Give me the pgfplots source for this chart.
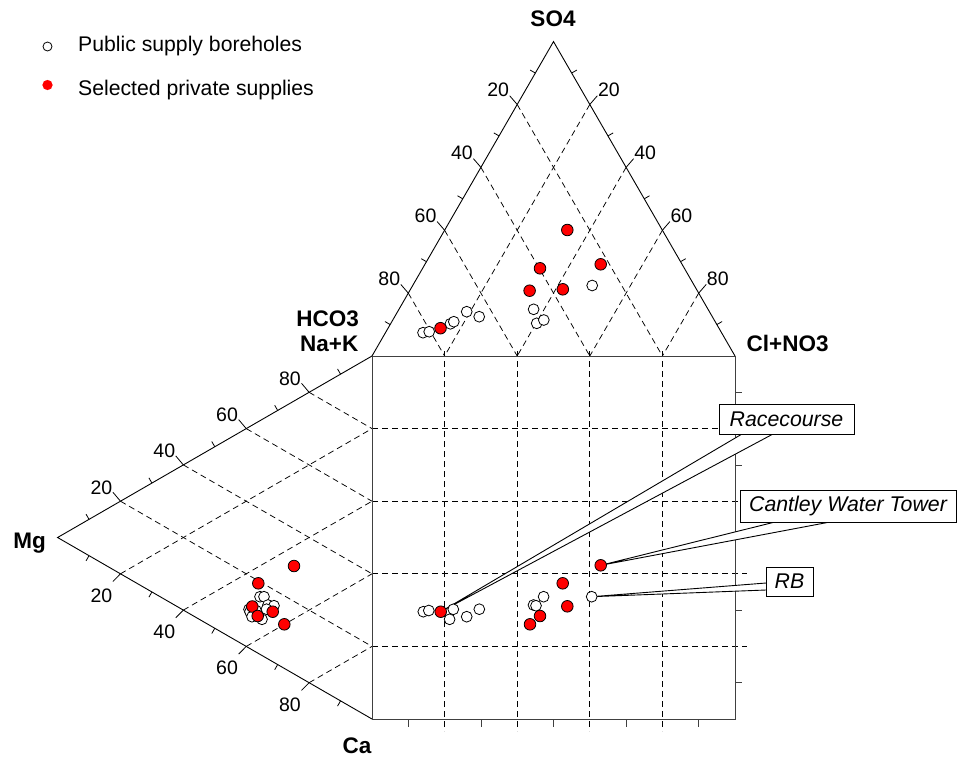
\documentclass[border=0pt]{standalone}
\usepackage{fontspec}
\setmainfont{Liberation Sans}
\usepackage{pgfplots}
\pgfplotsset{compat=1.18}
\tikzset{
  dsh/.style={dash pattern=on 6pt off 4pt, line width=0.75pt},
  edge/.style={line width=0.9pt},
  tk/.style={line width=0.8pt},
  num/.style={inner sep=0pt, font={\fontsize{19.5}{22}\selectfont}},
  big/.style={inner sep=0pt, font={\fontsize{22.5}{26}\selectfont\bfseries}},
  ann/.style={inner sep=0pt, font={\fontsize{21.3}{25}\selectfont\itshape}},
}
\begin{document}
\begin{tikzpicture}
\begin{axis}[x=1pt, y=1pt, y dir=reverse, xmin=0, xmax=958, ymin=0, ymax=758,
  hide axis, clip=false]
\path (axis cs:0,0) rectangle (axis cs:958,758);

% ---------------- top triangle ----------------
\draw[edge] (axis cs:372,356) -- (axis cs:553.5,41.6) -- (axis cs:735,356);
% dashed grid
\draw[dsh] (axis cs:517.2,104.48) -- (axis cs:662.4,356);
\draw[dsh] (axis cs:480.9,167.36) -- (axis cs:589.8,356);
\draw[dsh] (axis cs:444.6,230.24) -- (axis cs:517.2,356);
\draw[dsh] (axis cs:408.3,293.12) -- (axis cs:444.6,356);
\draw[dsh] (axis cs:589.8,104.48) -- (axis cs:444.6,356);
\draw[dsh] (axis cs:626.1,167.36) -- (axis cs:517.2,356);
\draw[dsh] (axis cs:662.4,230.24) -- (axis cs:589.8,356);
\draw[dsh] (axis cs:698.7,293.12) -- (axis cs:662.4,356);
% major ticks
\draw[tk] (axis cs:517.2,104.48) -- (axis cs:509.7,95.78);
\draw[tk] (axis cs:480.9,167.36) -- (axis cs:473.4,158.66);
\draw[tk] (axis cs:444.6,230.24) -- (axis cs:437.1,221.54);
\draw[tk] (axis cs:408.3,293.12) -- (axis cs:400.8,284.42);
\draw[tk] (axis cs:589.8,104.48) -- (axis cs:597.3,95.78);
\draw[tk] (axis cs:626.1,167.36) -- (axis cs:633.6,158.66);
\draw[tk] (axis cs:662.4,230.24) -- (axis cs:669.9,221.54);
\draw[tk] (axis cs:698.7,293.12) -- (axis cs:706.2,284.42);
% minor ticks
\draw[tk] (axis cs:535.35,73.04) -- (axis cs:530.15,70.04);
\draw[tk] (axis cs:499.05,135.92) -- (axis cs:493.85,132.92);
\draw[tk] (axis cs:462.75,198.8) -- (axis cs:457.55,195.8);
\draw[tk] (axis cs:426.45,261.68) -- (axis cs:421.25,258.68);
\draw[tk] (axis cs:390.15,324.56) -- (axis cs:384.95,321.56);
\draw[tk] (axis cs:571.65,73.04) -- (axis cs:576.85,70.04);
\draw[tk] (axis cs:607.95,135.92) -- (axis cs:613.15,132.92);
\draw[tk] (axis cs:644.25,198.8) -- (axis cs:649.45,195.8);
\draw[tk] (axis cs:680.55,261.68) -- (axis cs:685.75,258.68);
\draw[tk] (axis cs:716.85,324.56) -- (axis cs:722.05,321.56);
% labels
\node[num, anchor=south east] at (axis cs:509.2,96.8) {20};
\node[num, anchor=south east] at (axis cs:472.9,159.7) {40};
\node[num, anchor=south east] at (axis cs:436.6,222.5) {60};
\node[num, anchor=south east] at (axis cs:400.3,285.4) {80};
\node[num, anchor=south west] at (axis cs:597.8,96.8) {20};
\node[num, anchor=south west] at (axis cs:634.1,159.7) {40};
\node[num, anchor=south west] at (axis cs:670.4,222.5) {60};
\node[num, anchor=south west] at (axis cs:706.7,285.4) {80};

% ---------------- left triangle ----------------
\draw[edge] (axis cs:372,356) -- (axis cs:57.6,537.5) -- (axis cs:372,719);
\draw[dsh] (axis cs:120.48,501.2) -- (axis cs:372,646.4);
\draw[dsh] (axis cs:183.36,464.9) -- (axis cs:372,573.8);
\draw[dsh] (axis cs:246.24,428.6) -- (axis cs:372,501.2);
\draw[dsh] (axis cs:309.12,392.3) -- (axis cs:372,428.6);
\draw[dsh] (axis cs:120.48,573.8) -- (axis cs:372,428.6);
\draw[dsh] (axis cs:183.36,610.1) -- (axis cs:372,501.2);
\draw[dsh] (axis cs:246.24,646.4) -- (axis cs:372,573.8);
\draw[dsh] (axis cs:309.12,682.7) -- (axis cs:372,646.4);
% major ticks
\draw[tk] (axis cs:120.48,501.2) -- (axis cs:112.88,492.2);
\draw[tk] (axis cs:183.36,464.9) -- (axis cs:175.76,455.9);
\draw[tk] (axis cs:246.24,428.6) -- (axis cs:238.64,419.6);
\draw[tk] (axis cs:309.12,392.3) -- (axis cs:301.52,383.3);
\draw[tk] (axis cs:120.48,573.8) -- (axis cs:112.88,581.5);
\draw[tk] (axis cs:183.36,610.1) -- (axis cs:175.76,617.8);
\draw[tk] (axis cs:246.24,646.4) -- (axis cs:238.64,654.1);
\draw[tk] (axis cs:309.12,682.7) -- (axis cs:301.52,690.4);
% minor ticks
\draw[tk] (axis cs:89.04,519.35) -- (axis cs:86.04,514.15);
\draw[tk] (axis cs:151.92,483.05) -- (axis cs:148.92,477.85);
\draw[tk] (axis cs:214.8,446.75) -- (axis cs:211.8,441.55);
\draw[tk] (axis cs:277.68,410.45) -- (axis cs:274.68,405.25);
\draw[tk] (axis cs:340.56,374.15) -- (axis cs:337.56,368.95);
\draw[tk] (axis cs:89.04,555.65) -- (axis cs:86.04,560.85);
\draw[tk] (axis cs:151.92,591.95) -- (axis cs:148.92,597.15);
\draw[tk] (axis cs:214.8,628.25) -- (axis cs:211.8,633.45);
\draw[tk] (axis cs:277.68,664.55) -- (axis cs:274.68,669.75);
\draw[tk] (axis cs:340.56,700.85) -- (axis cs:337.56,706.05);
% labels
\node[num, anchor=south east] at (axis cs:112.4,494.5) {20};
\node[num, anchor=south east] at (axis cs:175.3,458.2) {40};
\node[num, anchor=south east] at (axis cs:238.1,421.9) {60};
\node[num, anchor=south east] at (axis cs:301.0,385.6) {80};
\node[num, anchor=north east] at (axis cs:112.4,588.5) {20};
\node[num, anchor=north east] at (axis cs:175.3,624.8) {40};
\node[num, anchor=north east] at (axis cs:238.1,661.1) {60};
\node[num, anchor=north east] at (axis cs:301.0,697.4) {80};

% ---------------- square ----------------
\draw[dsh] (axis cs:372,428.6) -- (axis cs:747,428.6);
\draw[dsh] (axis cs:372,501.2) -- (axis cs:747,501.2);
\draw[dsh] (axis cs:372,573.8) -- (axis cs:747,573.8);
\draw[dsh] (axis cs:372,646.4) -- (axis cs:747,646.4);
\draw[dsh] (axis cs:444.6,351) -- (axis cs:444.6,731);
\draw[dsh] (axis cs:517.2,351) -- (axis cs:517.2,731);
\draw[dsh] (axis cs:589.8,351) -- (axis cs:589.8,731);
\draw[dsh] (axis cs:662.4,351) -- (axis cs:662.4,731);
\draw[tk, black!75] (axis cs:408.3,719) -- (axis cs:408.3,727);
\draw[tk, black!75] (axis cs:480.9,719) -- (axis cs:480.9,727);
\draw[tk, black!75] (axis cs:553.5,719) -- (axis cs:553.5,727);
\draw[tk, black!75] (axis cs:626.1,719) -- (axis cs:626.1,727);
\draw[tk, black!75] (axis cs:698.7,719) -- (axis cs:698.7,727);
\draw[tk, black!75] (axis cs:735,392.3) -- (axis cs:742,392.3);
\draw[tk, black!75] (axis cs:735,464.9) -- (axis cs:742,464.9);
\draw[tk, black!75] (axis cs:735,537.5) -- (axis cs:742,537.5);
\draw[tk, black!75] (axis cs:735,610.1) -- (axis cs:742,610.1);
\draw[tk, black!75] (axis cs:735,682.7) -- (axis cs:742,682.7);
\draw[edge, black!75] (axis cs:372,356) rectangle (axis cs:735,719);

% ---------------- data ----------------
% public supply boreholes (open)
\addplot[only marks, mark=*, mark size=5.4pt,
  mark options={fill=white, draw=black, line width=0.8pt}] coordinates {
  % top triangle
  (592.2,285.5) (533.6,309.3) (536.7,323.3) (543.8,320) (466.7,311.7)
  (479.2,316.7) (450.4,323.8) (453.8,321.7) (423.0,332.7) (429.2,331.7)
  % square
  (423.3,611.7) (428.8,610.5) (453.3,609.3) (449.6,619.3) (466.7,616.7)
  (479.3,609.2) (533.5,605.0) (536.0,605.7) (543.6,596.7) (591.7,596.7)
  % left triangle
  (260.0,596.7) (264.0,596.7) (268.0,605.0) (274.0,605.7) (266.5,609.2)
  (249.0,609.3) (256.0,610.5) (250.0,611.7) (252.0,616.7) (262.0,619.3)
};
% selected private supplies (red)
\addplot[only marks, mark=*, mark size=5.8pt,
  mark options={fill=red, draw=black, line width=0.8pt}] coordinates {
  % top triangle
  (567.3,230.0) (540.0,268.3) (600.7,264.3) (529.6,290.7) (562.8,289.3) (440.5,328.2)
  % square
  (440.7,611.7) (562.7,583.3) (567.3,606.3) (540.0,616.0) (530.0,624.3) (600.7,565.3)
  % left triangle
  (294.0,566.0) (258.3,583.3) (252.3,606.5) (257.7,616.0) (272.7,611.7) (284.3,624.3)
};

% ---------------- callouts ----------------
\filldraw[fill=white, line width=0.9pt] (axis cs:742,434) -- (axis cs:440.7,611.7) -- (axis cs:773,434);
\filldraw[fill=white, line width=0.9pt] (axis cs:775,522) -- (axis cs:600.7,565.3) -- (axis cs:830,522);
\filldraw[fill=white, line width=0.9pt] (axis cs:766,583) -- (axis cs:591.7,596.7) -- (axis cs:766,590);
\filldraw[fill=white, line width=0.9pt] (axis cs:719,404) rectangle (axis cs:854,434);
\filldraw[fill=white, line width=0.9pt] (axis cs:740,490) rectangle (axis cs:956,522);
\filldraw[fill=white, line width=0.9pt] (axis cs:766,567) rectangle (axis cs:813,596);
\node[ann] at (axis cs:786.5,419) {Racecourse};
\node[ann] at (axis cs:848,506) {Cantley Water Tower};
\node[ann] at (axis cs:789.5,581.5) {RB};

% ---------------- axis titles ----------------
\node[big, anchor=base] at (axis cs:553,26.7) {SO4};
\node[big, anchor=base west] at (axis cs:746.5,351.7) {Cl+NO3};
\node[big, anchor=base east] at (axis cs:359,326.5) {HCO3};
\node[big, anchor=base east] at (axis cs:358.5,351.5) {Na+K};
\node[big, anchor=base east] at (axis cs:46,548) {Mg};
\node[big, anchor=base east] at (axis cs:371.5,753) {Ca};

% ---------------- legend ----------------
\addplot[only marks, mark=*, mark size=4.5pt,
  mark options={fill=white, draw=black, line width=0.8pt}] coordinates {(47.5,46.5)};
\addplot[only marks, mark=*, mark size=5pt,
  mark options={fill=red, draw=red, line width=0.1pt}] coordinates {(47.5,85)};
\node[anchor=base west, inner sep=0pt, font={\fontsize{21.2}{25}\selectfont}] at (axis cs:78,51.7) {Public supply boreholes};
\node[anchor=base west, inner sep=0pt, font={\fontsize{21.2}{25}\selectfont}] at (axis cs:78,95) {Selected private supplies};
\end{axis}
\end{tikzpicture}
\end{document}
